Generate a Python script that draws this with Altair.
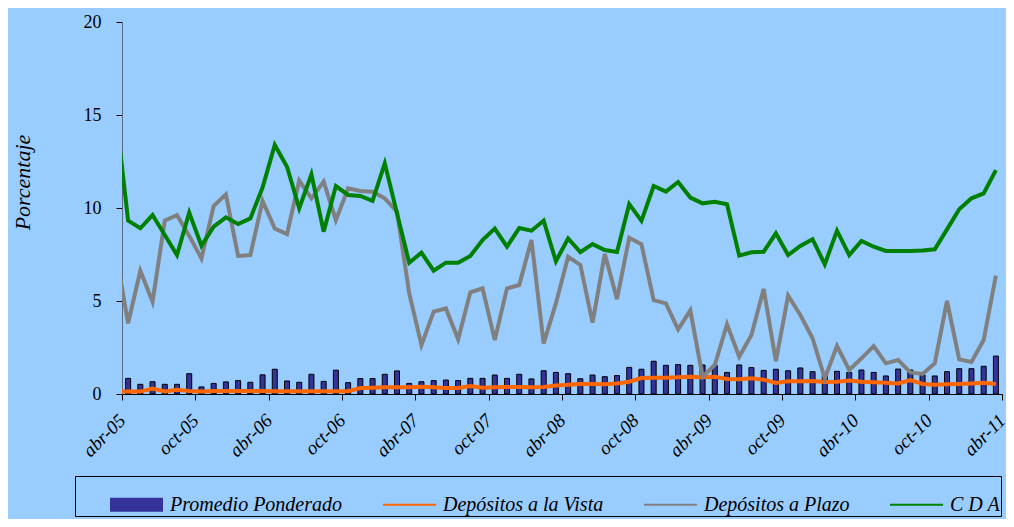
import altair as alt
import pandas as pd

# ---------------- data ----------------
# month index 0 = abr-05 ... 71 = mar-11 ; lines also carry the mar-05 point (index -1), clipped at the axis
tick_labels = ["abr-05", "oct-05", "abr-06", "oct-06", "abr-07", "oct-07", "abr-08",
               "oct-08", "abr-09", "oct-09", "abr-10", "oct-10", "abr-11"]

series_names = ["Promedio Ponderado", "Depósitos a la Vista", "Depósitos a Plazo", "C D A"]
series_colors = ["#333399", "#FF6600", "#808080", "#008000"]

promedio = [0.84, 0.52, 0.66, 0.52, 0.52, 1.09, 0.38, 0.57, 0.65, 0.72, 0.63, 1.03,
            1.33, 0.70, 0.63, 1.06, 0.68, 1.28, 0.61, 0.83, 0.83, 1.06, 1.24, 0.57,
            0.66, 0.72, 0.75, 0.72, 0.84, 0.84, 1.02, 0.84, 1.06, 0.81, 1.25, 1.16,
            1.09, 0.82, 1.02, 0.93, 0.99, 1.43, 1.33, 1.76, 1.54, 1.58, 1.54, 1.56,
            1.54, 1.16, 1.56, 1.42, 1.27, 1.33, 1.25, 1.40, 1.20, 1.02, 1.22, 1.16,
            1.29, 1.16, 0.97, 1.34, 1.29, 1.02, 0.97, 1.20, 1.36, 1.36, 1.49, 2.04]

vista = [0.13,
         0.13, 0.13, 0.29, 0.14, 0.23, 0.16, 0.14, 0.16, 0.16, 0.16, 0.16, 0.16,
         0.15, 0.15, 0.15, 0.15, 0.15, 0.15, 0.15, 0.32, 0.34, 0.36, 0.36, 0.36,
         0.39, 0.36, 0.32, 0.32, 0.43, 0.34, 0.36, 0.38, 0.38, 0.36, 0.38, 0.46,
         0.50, 0.54, 0.54, 0.52, 0.56, 0.66, 0.86, 0.88, 0.88, 0.90, 0.93, 0.90,
         0.93, 0.81, 0.79, 0.84, 0.77, 0.59, 0.68, 0.68, 0.70, 0.65, 0.66, 0.72,
         0.66, 0.63, 0.61, 0.57, 0.75, 0.54, 0.50, 0.52, 0.54, 0.57, 0.61, 0.54]

plazo = [7.6,
         3.80, 6.63, 4.96, 9.32, 9.62, 8.50, 7.29, 10.10, 10.73, 7.42, 7.47, 10.38,
         8.90, 8.60, 11.47, 10.52, 11.42, 9.35, 11.06, 10.91, 10.88, 10.52, 9.80, 5.41,
         2.63, 4.43, 4.60, 2.94, 5.47, 5.68, 2.90, 5.68, 5.86, 8.28, 2.72, 4.87,
         7.38, 6.94, 3.84, 7.53, 5.10, 8.40, 8.05, 5.05, 4.87, 3.48, 4.50, 0.93,
         1.56, 3.75, 2.00, 3.17, 5.65, 1.77, 5.29, 4.25, 3.00, 0.84, 2.58, 1.29,
         1.92, 2.58, 1.65, 1.83, 1.16, 1.08, 1.65, 5.00, 1.86, 1.72, 2.90, 6.36]

cda = [15.1,
       9.32, 8.91, 9.62, 8.55, 7.47, 9.75, 7.97, 9.00, 9.50, 9.14, 9.44, 11.10,
       13.39, 12.22, 9.98, 11.81, 8.73, 11.18, 10.70, 10.65, 10.38, 12.40, 9.71, 7.06,
       7.60, 6.63, 7.06, 7.06, 7.42, 8.28, 8.89, 7.92, 8.92, 8.78, 9.32, 7.14,
       8.36, 7.63, 8.06, 7.74, 7.64, 10.21, 9.31, 11.18, 10.88, 11.40, 10.56, 10.25,
       10.34, 10.20, 7.44, 7.62, 7.65, 8.64, 7.47, 7.96, 8.32, 6.97, 8.78, 7.47,
       8.23, 7.92, 7.69, 7.69, 7.69, 7.71, 7.78, 8.85, 9.93, 10.52, 10.79, 12.04]

# ---------------- tables ----------------
bars_df = pd.DataFrame({
    "t": [k + 0.5 for k in range(len(promedio))],
    "valor": promedio,
})

rows = []
for name, vals in zip(series_names[1:], [vista, plazo, cda]):
    for i, v in enumerate(vals):
        rows.append({"t": i - 1 + 0.5, "valor": v, "serie": name})
lines_df = pd.DataFrame(rows)

legend_df = pd.DataFrame({"serie": series_names})

FONT = "Liberation Serif"
n_months = len(promedio)
label_js = "[" + ",".join("'%s'" % s for s in tick_labels) + "]"

x_scale = alt.Scale(domain=[0, n_months], nice=False, zero=False, padding=0)
y_scale = alt.Scale(domain=[0, 20], nice=False)
color_scale = alt.Scale(domain=series_names, range=series_colors)
stroke_scale = alt.Scale(domain=series_names[1:], range=series_colors[1:])

BAR_PATH = "M-1,-0.264H1V0.264H-1Z"
LINE_PATH = "M-1,-0.04H1V0.04H-1Z"
shape_scale = alt.Scale(domain=series_names, range=[BAR_PATH, LINE_PATH, LINE_PATH, LINE_PATH])

x_axis = alt.Axis(
    values=list(range(0, n_months + 1, 6)),
    labelExpr=label_js + "[round(datum.value/6)]",
    title=None, grid=False,
    domainColor="black", tickColor="black", tickSize=6,
    labelAngle=-45, labelAlign="right", labelBaseline="middle",
    labelPadding=17,
    labelFont=FONT, labelFontStyle="italic", labelFontSize=19, labelColor="black",
    labelFlush=False, labelOverlap=False,
)
y_axis = alt.Axis(
    values=[0, 5, 10, 15, 20], grid=False,
    domainColor="#5a6a80", tickColor="black", tickSize=6,
    labelFont=FONT, labelFontSize=18, labelColor="black", labelPadding=15,
    title="Porcentaje", titleFont=FONT, titleFontStyle="italic", titleFontSize=22,
    titleFontWeight="normal", titleColor="black", titleAngle=-90,
    titleBaseline="middle", titleAlign="center", titleX=-100, titleY=160,
)

legend = alt.Legend(
    title=None, orient="none", direction="horizontal", columns=4,
    legendX=-47, legendY=454,
    strokeColor="black", padding=1, symbolOffset=33,
    symbolSize=2809, labelOffset=6, columnPadding=6,
    symbolOpacity=1, labelLimit=0,
    labelFont=FONT, labelFontStyle="italic", labelFontSize=20, labelColor="black",
    labelExpr="datum.label === 'C D A' ? datum.label + '          ' : datum.label",
)

bars = alt.Chart(bars_df).mark_bar(
    orient="vertical", size=5, color="#333399", stroke="black", strokeWidth=1
).encode(
    x=alt.X("t:Q", scale=x_scale, axis=x_axis),
    y=alt.Y("valor:Q", scale=y_scale, axis=y_axis),
)

lines = alt.Chart(lines_df).mark_line(clip=True, strokeWidth=4).encode(
    x=alt.X("t:Q", scale=x_scale),
    y=alt.Y("valor:Q", scale=y_scale),
    stroke=alt.Stroke("serie:N", scale=stroke_scale, legend=None),
    order=alt.Order("t:Q"),
)

# legend-only layer: no marks drawn, it just carries the legend with per-series symbols
legend_layer = alt.Chart(legend_df).transform_filter("false").mark_point(
    filled=True, opacity=1
).encode(
    color=alt.Color("serie:N", scale=color_scale, legend=legend),
    shape=alt.Shape("serie:N", scale=shape_scale, legend=legend),
)

chart = alt.layer(bars, lines, legend_layer).properties(
    width=880, height=372,
    autosize=alt.AutoSizeParams(type="none"),
    padding={"left": 114, "top": 14, "right": 4, "bottom": 125},
    background="#99CCFF",
).configure_view(strokeWidth=0)

chart.save("out.html", embed_options={"renderer": "svg", "actions": False})
